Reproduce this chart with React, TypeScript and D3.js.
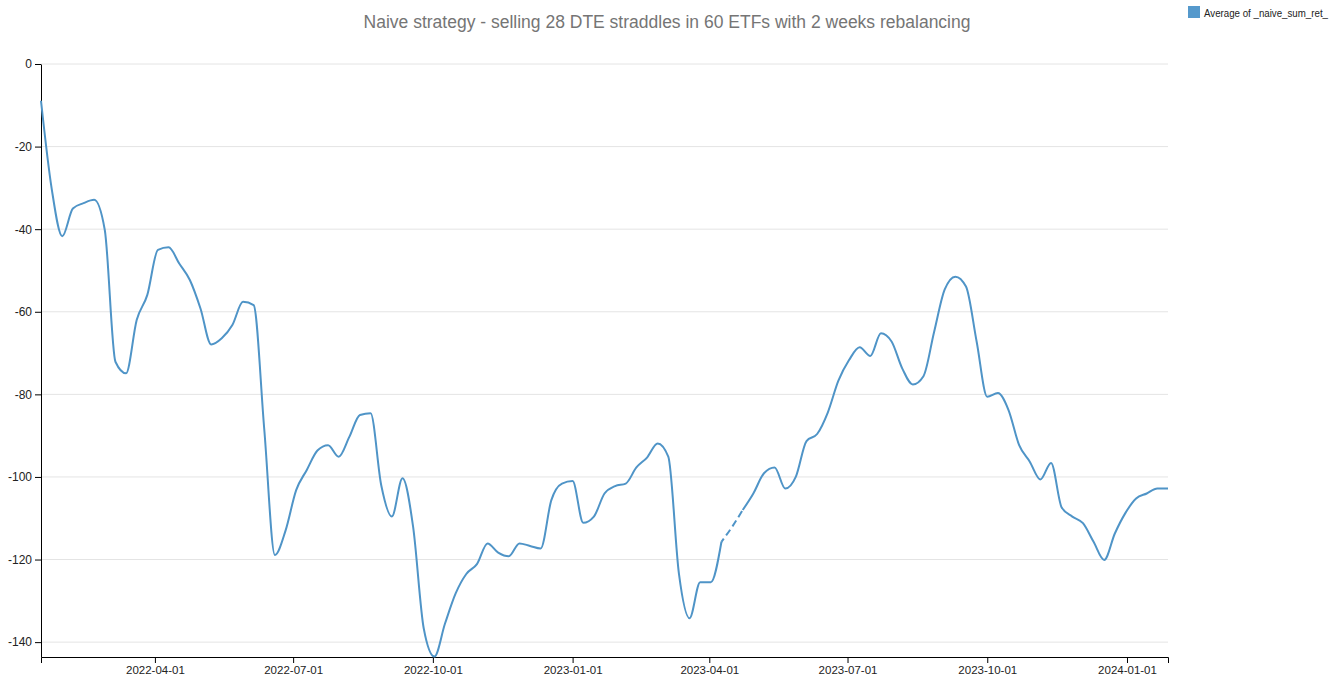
import React, { useEffect, useRef } from "react";
import * as d3 from "d3";

const TITLE = "Naive strategy - selling 28 DTE straddles in 60 ETFs with 2 weeks rebalancing";
const LEGEND_LABEL = "Average of _naive_sum_ret_";
const START_DATE = "2022-01-16";
const WEEKLY_VALUES: number[] = [
  -8.9, -30.1, -41.7, -35.0, -33.7, -32.9, -40.2, -72.1, -74.9, -62.0,
  -55.9, -45.0, -44.4, -48.3, -52.3, -59.2, -67.9, -66.4, -63.2, -57.6,
  -58.4, -88.5, -118.9, -113.0, -103.2, -98.3, -93.6, -92.3, -95.1, -90.3,
  -85.0, -84.6, -102.0, -109.6, -100.3, -112.1, -136.7, -143.5, -135.5, -128.2,
  -123.5, -121.1, -116.1, -118.3, -119.2, -116.1, -116.7, -117.3, -105.6, -101.6,
  -101.0, -111.1, -109.6, -104.0, -102.2, -101.6, -97.7, -95.3, -91.9, -95.1,
  -123.4, -134.2, -125.5, -125.5, -115.7, -112.1, -108.0, -104.0, -99.1, -97.7,
  -102.8, -99.9, -91.3, -89.6, -84.4, -76.7, -71.7, -68.6, -70.7, -65.2,
  -67.2, -73.7, -77.6, -75.6, -64.9, -54.6, -51.5, -53.9, -67.2, -80.6,
  -79.7, -83.8, -92.3, -96.3, -100.6, -96.6, -107.4, -109.6, -111.2, -115.7,
  -120.1, -113.7, -108.7, -105.2, -104.0, -102.8, -102.8,
];
// indexes of the segment drawn dashed (missing data bridge)
const DASH_FROM = 64;
const DASH_TO = 66;
const Y_TICKS = [0, -20, -40, -60, -80, -100, -120, -140];

const W = 1334;
const H = 690;
const M = { left: 41, right: 1168, top: 64, bottom: 657 };
const LINE_COLOR = "#4f94c7";
const FONT = "'Liberation Sans', Arial, Helvetica, sans-serif";

export default function App() {
  const ref = useRef<SVGSVGElement>(null);

  useEffect(() => {
    const svg = d3.select(ref.current);
    svg.selectAll("*").remove();

    const start = d3.utcParse("%Y-%m-%d")(START_DATE) as Date;
    const data = WEEKLY_VALUES.map((v, i) => ({ date: d3.utcDay.offset(start, 7 * i), value: v }));

    const x = d3
      .scaleUtc()
      .domain([data[0].date, data[data.length - 1].date])
      .range([M.left, M.right]);
    const yMin = d3.min(data, (d) => d.value) as number;
    const y = d3.scaleLinear().domain([yMin - 0.1, 0]).range([M.bottom, M.top]);

    // grid
    svg
      .append("g")
      .selectAll("line")
      .data(Y_TICKS)
      .join("line")
      .attr("x1", M.left)
      .attr("x2", M.right)
      .attr("y1", (d) => y(d))
      .attr("y2", (d) => y(d))
      .attr("stroke", "#e4e4e4")
      .attr("stroke-width", 1);

    // y axis
    const yAxis = svg
      .append("g")
      .attr("transform", `translate(${M.left},0)`)
      .call(d3.axisLeft(y).tickValues(Y_TICKS).tickSizeOuter(0).tickFormat((d) => String(d)));
    yAxis.selectAll("text").attr("font-family", FONT).attr("font-size", 12).attr("fill", "#222");
    yAxis.selectAll("line,path").attr("stroke", "#000");

    // x axis
    const xAxis = svg
      .append("g")
      .attr("transform", `translate(0,${M.bottom})`)
      .call(
        d3
          .axisBottom(x)
          .ticks(d3.utcMonth.every(3))
          .tickSizeOuter(6)
          .tickFormat((d) => d3.utcFormat("%Y-%m-%d")(d as Date))
      );
    xAxis.selectAll("text").attr("font-family", FONT).attr("font-size", 11.5).attr("fill", "#222");
    xAxis.selectAll("line,path").attr("stroke", "#000");

    const line = d3
      .line<{ date: Date; value: number }>()
      .x((d) => x(d.date))
      .y((d) => y(d.value))
      .curve(d3.curveMonotoneX);

    const part1 = data.slice(0, DASH_FROM + 1);
    const partDash = data.slice(DASH_FROM, DASH_TO + 1);
    const part2 = data.slice(DASH_TO);

    const g = svg.append("g").attr("fill", "none").attr("stroke", LINE_COLOR).attr("stroke-width", 2);
    g.append("path").attr("d", line(part1));
    g.append("path").attr("d", line(partDash)).attr("stroke-dasharray", "7,4").attr("stroke-dashoffset", -8);
    g.append("path").attr("d", line(part2));

    // title
    svg
      .append("text")
      .attr("x", 667)
      .attr("y", 28)
      .attr("text-anchor", "middle")
      .attr("font-family", FONT)
      .attr("font-size", 17.5)
      .attr("fill", "#757575")
      .text(TITLE);

    // legend
    svg
      .append("rect")
      .attr("x", 1188)
      .attr("y", 6)
      .attr("width", 12)
      .attr("height", 12)
      .attr("fill", "#5599cc");
    svg
      .append("text")
      .attr("x", 1204)
      .attr("y", 16.5)
      .attr("font-family", FONT)
      .attr("font-size", 10)
      .attr("textLength", 124)
      .attr("lengthAdjust", "spacingAndGlyphs")
      .attr("fill", "#222")
      .text(LEGEND_LABEL);
  }, []);

  return (
    <svg
      ref={ref}
      width={W}
      height={H}
      style={{ position: "absolute", left: 0, top: 0, background: "#fff" }}
    />
  );
}
